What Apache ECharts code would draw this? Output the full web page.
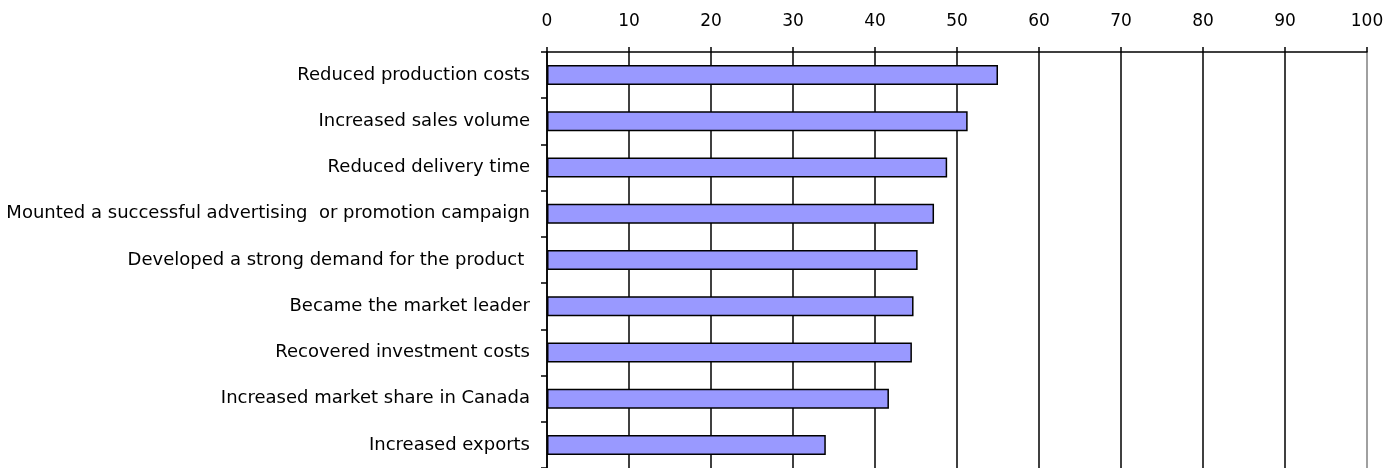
<!DOCTYPE html>
<html lang="en">
<head>
    <meta charset="UTF-8">
    <title>Outcomes</title>
    <script src="https://cdn.jsdelivr.net/npm/echarts@6/dist/echarts.min.js"></script>
    <style>
        body, html {
            margin: 0;
            padding: 0;
            width: 100%;
            height: 100%;
            overflow: hidden;
            background-color: #fff;
        }
        #container {
            width: 1392px;
            height: 468px;
        }
    </style>
</head>
<body>
    <div id="container"></div>
    <script>
        // categories, top to bottom
        var categories = [
            'Reduced production costs',
            'Increased sales volume',
            'Reduced delivery time',
            'Mounted a successful advertising  or promotion campaign',
            'Developed a strong demand for the product ',
            'Became the market leader',
            'Recovered investment costs',
            'Increased market share in Canada',
            'Increased exports'
        ];
        var values = [55.0, 51.3, 48.8, 47.2, 45.2, 44.7, 44.5, 41.7, 34.0];

        // grid line colours: black, last one (100) grey
        var splitColors = ['#000', '#000', '#000', '#000', '#000', '#000',
                           '#000', '#000', '#000', '#000', '#808080'];

        var font = 'DejaVu Sans, sans-serif';

        var option = {
            backgroundColor: '#fff',
            animation: false,
            grid: {
                left: 547,
                right: 25,
                top: 52,
                height: 418
            },
            xAxis: {
                type: 'value',
                position: 'top',
                min: 0,
                max: 100,
                interval: 10,
                axisLine: { show: true, lineStyle: { color: '#000', width: 1.5 } },
                axisTick: { show: true, length: 5, lineStyle: { color: '#000', width: 1.5 } },
                axisLabel: { color: '#000', fontSize: 17, fontFamily: font, margin: 22 },
                splitLine: { show: true, lineStyle: { color: splitColors, width: 1.5 } }
            },
            yAxis: {
                type: 'category',
                inverse: true,
                data: categories,
                axisLine: { show: true, lineStyle: { color: '#000', width: 1.5 } },
                axisTick: { show: true, length: 6, lineStyle: { color: '#000', width: 1.5 } },
                axisLabel: { color: '#000', fontSize: 18, fontFamily: font, margin: 17 }
            },
            series: [{
                type: 'bar',
                data: values,
                barWidth: 20,
                itemStyle: {
                    color: '#9999ff',
                    borderColor: '#000',
                    borderWidth: 1.5
                }
            }]
        };

        var chart = echarts.init(document.getElementById('container'));
        chart.setOption(option);
    </script>
</body>
</html>
